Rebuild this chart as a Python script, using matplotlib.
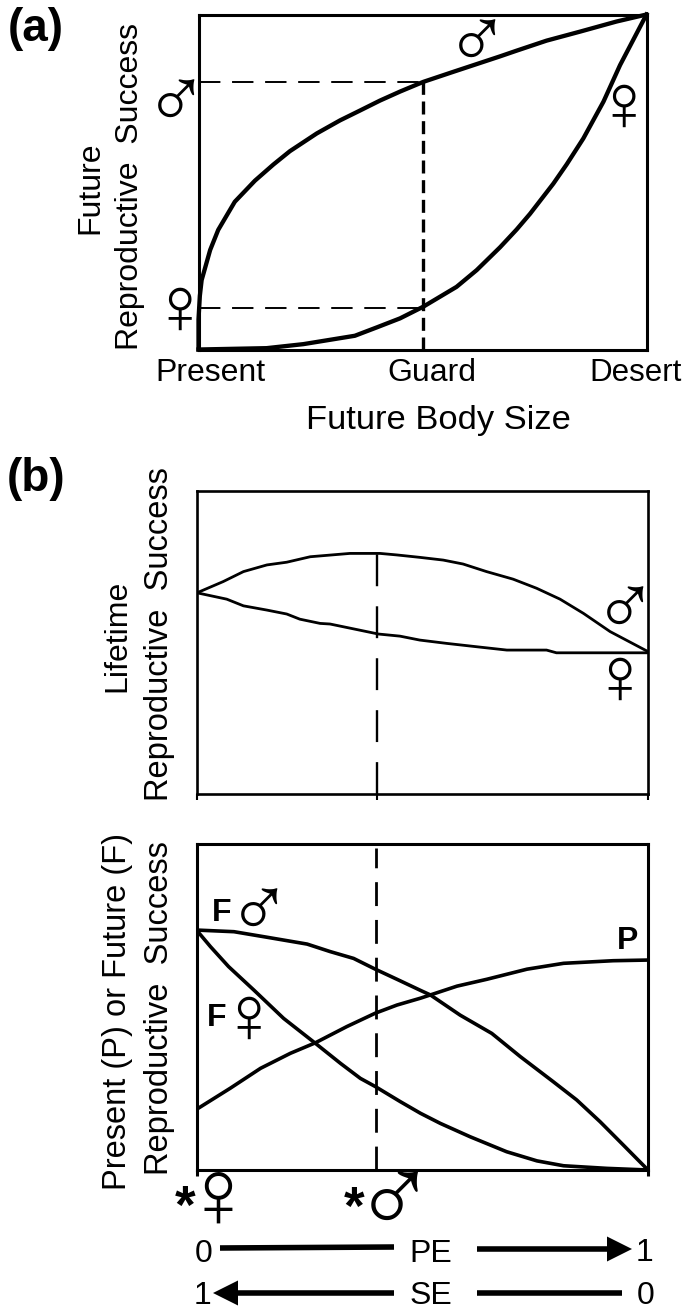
import matplotlib
matplotlib.use('Agg')
import matplotlib.pyplot as plt

plt.rcParams['font.family'] = ['Liberation Sans', 'DejaVu Sans']

W, H = 685, 1313

# panel (a), fractions of the axes
a_male_x = [0, 0, 0.003, 0.007, 0.026, 0.044, 0.081, 0.126, 0.167, 0.204, 0.264, 0.316, 0.36, 0.405, 0.45, 0.502,
            0.569, 0.673, 0.71, 0.777, 0.852, 0.933, 1]
a_male_y = [0, 0.09, 0.16, 0.207, 0.297, 0.357, 0.441, 0.504, 0.552, 0.592, 0.645, 0.684, 0.713, 0.743, 0.77, 0.799,
            0.829, 0.875, 0.892, 0.922, 0.949, 0.979, 1]
a_female_x = [0, 0.152, 0.234, 0.349, 0.398, 0.45, 0.502, 0.576, 0.621, 0.673, 0.71, 0.74, 0.792, 0.822, 0.859, 0.904, 0.941, 1]
a_female_y = [0, 0.004, 0.016, 0.041, 0.066, 0.093, 0.128, 0.187, 0.237, 0.305, 0.358, 0.405, 0.495, 0.553, 0.63, 0.74, 0.849, 1]
a_guard = 0.5
a_guard_male = 0.799
a_guard_female = 0.123
a_ticks = ['Present', 'Guard', 'Desert']

# panel (b) top, lifetime success
b_male_x = [0, 0.058, 0.103, 0.155, 0.199, 0.251, 0.339, 0.406, 0.443, 0.494, 0.546, 0.59, 0.642, 0.701, 0.753, 0.805, 0.857, 0.916, 1]
b_male_y = [0.664, 0.701, 0.734, 0.756, 0.765, 0.783, 0.794, 0.794, 0.789, 0.781, 0.772, 0.759, 0.734, 0.709, 0.679, 0.643, 0.596, 0.536, 0.47]
b_female_x = [0, 0.066, 0.103, 0.155, 0.199, 0.228, 0.273, 0.295, 0.347, 0.402, 0.45, 0.494, 0.554, 0.62, 0.687, 0.775, 0.797, 1]
b_female_y = [0.664, 0.643, 0.621, 0.607, 0.594, 0.577, 0.563, 0.561, 0.545, 0.528, 0.521, 0.508, 0.497, 0.486, 0.475, 0.475, 0.466, 0.466]
b_guard = 0.4
b_guard_top = 0.794

# panel (b) bottom, present and future success
c_fmale_x = [0, 0.083, 0.156, 0.245, 0.296, 0.348, 0.396, 0.444, 0.496, 0.518, 0.584, 0.654, 0.717, 0.79, 0.842, 0.894, 0.945, 1]
c_fmale_y = [0.736, 0.731, 0.714, 0.693, 0.67, 0.649, 0.616, 0.585, 0.551, 0.537, 0.475, 0.419, 0.348, 0.271, 0.215, 0.148, 0.077, 0]
c_ffemale_x = [0, 0.031, 0.071, 0.127, 0.193, 0.263, 0.319, 0.363, 0.396, 0.451, 0.496, 0.54, 0.606, 0.687, 0.754, 0.813, 0.909, 1]
c_ffemale_y = [0.736, 0.685, 0.624, 0.552, 0.465, 0.389, 0.327, 0.281, 0.256, 0.21, 0.174, 0.143, 0.102, 0.056, 0.028, 0.013, 0.005, 0]
c_p_x = [0, 0.075, 0.142, 0.208, 0.263, 0.333, 0.396, 0.444, 0.496, 0.518, 0.577, 0.643, 0.732, 0.813, 0.923, 1]
c_p_y = [0.186, 0.251, 0.312, 0.358, 0.39, 0.44, 0.481, 0.506, 0.527, 0.537, 0.564, 0.585, 0.616, 0.634, 0.642, 0.644]
c_guard = 0.398
c_guard_top = 0.988


def px_axes(left, top, right, bottom, lw):
    ax = fig.add_axes([left / W, 1 - bottom / H, (right - left) / W, (bottom - top) / H])
    ax.set_xlim(0, 1)
    ax.set_ylim(0, 1)
    ax.set_xticks([])
    ax.set_yticks([])
    for spine in ax.spines.values():
        spine.set_linewidth(lw)
    return ax


def label(x, y, s, size=23, **kw):
    kw.setdefault('ha', 'center')
    kw.setdefault('va', 'center')
    over.text(x, y, s, fontsize=size, color='black', **kw)


def sex(x, y, s, size=58):
    over.text(x, y, s, fontsize=size, color='black', ha='center', va='center')


def arrow(x0, x1, y):
    over.annotate('', xy=(x1, y), xytext=(x0, y),
                  arrowprops=dict(arrowstyle='simple,tail_width=4,head_width=18,head_length=18', mutation_scale=1,
                                  lw=0, fc='black', ec='black', shrinkA=0, shrinkB=0))


fig = plt.figure(figsize=(W / 100, H / 100), dpi=100)

# (a)
ax1 = px_axes(198.5, 14.5, 646.5, 349.5, 2.2)
ax1.plot(a_male_x, a_male_y, color='black', lw=3.1, clip_on=False)
ax1.plot(a_female_x, a_female_y, color='black', lw=3.1, clip_on=False)
ax1.plot([a_guard, a_guard], [0, a_guard_male], color='black', lw=2.4, linestyle=(0, (3.9, 2)))
ax1.plot([0, a_guard], [a_guard_male, a_guard_male], color='black', lw=1.4, linestyle=(0, (11, 6)))
ax1.plot([0, a_guard], [a_guard_female, a_guard_female], color='black', lw=1.4, linestyle=(0, (11, 6)))

# (b) top
ax2 = px_axes(197, 491, 648, 794, 1.9)
ax2.plot(b_male_x, b_male_y, color='black', lw=2.0)
ax2.plot(b_female_x, b_female_y, color='black', lw=2.0)
ax2.plot([b_guard, b_guard], [0, b_guard_top], color='black', lw=1.7, linestyle=(0, (13.5, 8.5)))
ax2.set_xticks([0, b_guard, 1])
ax2.set_xticklabels([])
ax2.tick_params(axis='x', length=4, width=1.5, direction='out')

# (b) bottom
ax3 = px_axes(196.5, 844, 648, 1170, 2.2)
ax3.plot(c_fmale_x, c_fmale_y, color='black', lw=2.6)
ax3.plot(c_ffemale_x, c_ffemale_y, color='black', lw=2.6)
ax3.plot(c_p_x, c_p_y, color='black', lw=2.6)
ax3.plot([c_guard, c_guard], [0, c_guard_top], color='black', lw=2.0, linestyle=(0, (8.6, 5)))
ax3.set_xticks([0, 1])
ax3.set_xticklabels([])
ax3.tick_params(axis='x', length=4.5, width=2.2, direction='out')

# everything else is placed in picture pixels
over = fig.add_axes([0, 0, 1, 1], facecolor='none')
over.set_xlim(0, W)
over.set_ylim(H, 0)
over.axis('off')

label(36, 29, '(a)', size=33, fontweight='bold')
label(36, 479, '(b)', size=33, fontweight='bold')

label(90, 188, 'Future', rotation=90)
label(130, 187, 'Reproductive  Success', rotation=90)
label(210, 373, a_ticks[0])
label(432, 373, a_ticks[1])
label(636, 373, a_ticks[2], size=22.5)
label(438, 420, 'Future Body Size', size=24.8)

sex(477, 46, '♂', size=62)
sex(176, 106, '♂', size=62)
sex(180, 312, '♀')
sex(624, 109, '♀')

label(117, 636, 'Lifetime', rotation=90)
label(160, 634, 'Reproductive  Success', size=23.5, rotation=90)
sex(625, 613, '♂', size=62)
sex(620, 682, '♀')

label(118, 1011, 'Present (P) or Future (F)', size=23.5, rotation=90)
label(160, 1008, 'Reproductive  Success', size=23.5, rotation=90)
label(222, 913, 'F', fontweight='bold')
sex(259, 915, '♂', size=62)
label(217, 1018, 'F', fontweight='bold')
sex(249, 1021, '♀')
label(628, 941, 'P', fontweight='bold')

label(185, 1209, '*', size=38, fontweight='bold')
sex(218, 1203, '♀', size=70)
label(354, 1210, '*', size=38, fontweight='bold')
sex(394, 1205, '♂', size=80)

# PE and SE scales
label(204, 1254, '0')
over.plot([220, 394], [1248, 1247], color='black', lw=4, solid_capstyle='butt')
label(431, 1254, 'PE')
arrow(477, 632, 1249)
label(645, 1253, '1')

label(203, 1296, '1')
arrow(394, 213, 1293)
label(431, 1296, 'SE')
over.plot([477, 622], [1293, 1293], color='black', lw=4, solid_capstyle='butt')
label(646, 1296, '0')

fig.savefig('out.png', dpi=100)
